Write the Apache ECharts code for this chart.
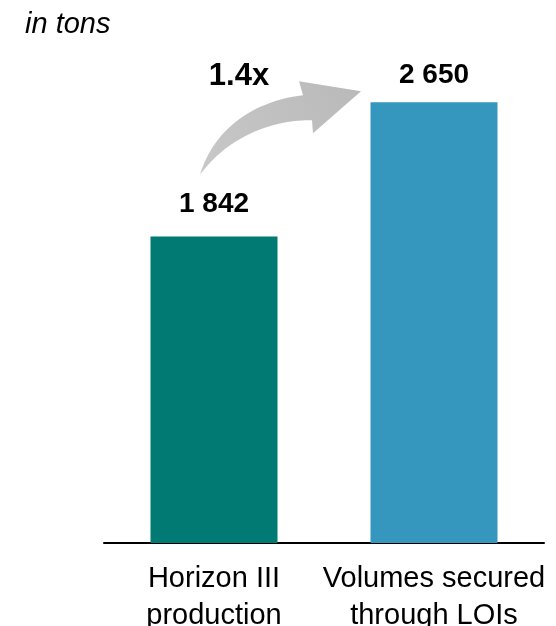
<!DOCTYPE html>
<html>
<head>
<meta charset="utf-8">
<script src="https://cdn.jsdelivr.net/npm/echarts@6/dist/echarts.min.js"></script>
<style>html,body{margin:0;padding:0;background:#fff}#c{width:556px;height:626px}</style>
</head>
<body>
<div id="c"></div>
<script>
const categories = ['Horizon III\nproduction', 'Volumes secured\nthrough LOIs'];
const values = [1842, 2650];
const barColors = ['#007A72', '#3596BE'];
const labelGaps = [18, 13];
const unitLabel = 'in tons';
const ratioLabel = '1.4x';

const FONT = 'Liberation Sans, Arial, sans-serif';
const fmt = v => String(v).replace(/\B(?=(\d{3})+(?!\d))/g, ' ');
const chart = echarts.init(document.getElementById('c'));
chart.setOption({
  animation: false,
  title: { text: unitLabel, left: 20, top: 5, textStyle: { fontFamily: FONT, fontStyle: 'italic', fontWeight: 'normal', fontSize: 29, color: '#000' } },
  grid: { left: 104, right: 12, top: 44, bottom: 83, containLabel: false, outerBoundsMode: 'none' },
  xAxis: {
    type: 'category', data: categories,
    axisLine: { lineStyle: { color: '#000', width: 2 } },
    axisTick: { show: false },
    axisLabel: { fontFamily: FONT, fontSize: 29, color: '#000', lineHeight: 37, margin: 17, interval: 0 }
  },
  yAxis: { type: 'value', min: 0, max: 3000, show: false, splitLine: { show: false } },
  series: [{
    type: 'bar', barWidth: 127,
    data: values.map((v, i) => ({ value: v, itemStyle: { color: barColors[i] }, label: { distance: labelGaps[i] } })),
    label: { show: true, position: 'top', formatter: p => fmt(p.value), fontFamily: FONT, fontWeight: 'bold', fontSize: 28, color: '#000' }
  }]
});

// arrow annotation anchored to bars
const p1 = chart.convertToPixel({ seriesIndex: 0 }, [0, values[0]]);
const p2 = chart.convertToPixel({ seriesIndex: 0 }, [1, values[1]]);
const sx = p1[0] - 14, sy = p1[1] - 62;
const tx = p2[0] - 73, ty = p2[1] - 11;
function bez(a, b, c, d, n) {
  const pts = [];
  for (let i = 0; i <= n; i++) {
    const t = i / n, u = 1 - t;
    pts.push([
      u*u*u*a[0] + 3*u*u*t*b[0] + 3*u*t*t*c[0] + t*t*t*d[0],
      u*u*u*a[1] + 3*u*u*t*b[1] + 3*u*t*t*c[1] + t*t*t*d[1]
    ]);
  }
  return pts;
}
const upper = bez([sx, sy], [sx + 13, sy - 43], [sx + 50, sy - 73], [tx - 58, ty + 4], 30);
const lower = bez([tx - 49, ty + 29], [sx + 80, sy - 55], [sx + 32, sy - 43], [sx, sy], 30);
const pts = upper.concat([[tx - 62, ty - 10], [tx, ty], [tx - 48, ty + 42]], lower);
chart.setOption({
  graphic: [
    { type: 'polygon', shape: { points: pts }, style: { fill: { type: 'linear', x: 0, y: 1, x2: 1, y2: 0, colorStops: [{ offset: 0, color: '#c8c8c8' }, { offset: 1, color: '#b9b9b9' }] } } },
    { type: 'text', x: 239, y: ty - 15, style: { text: ratioLabel, fontFamily: FONT, fontWeight: 'bold', fontSize: 31, fill: '#000', align: 'center', verticalAlign: 'middle' } }
  ]
});
</script>
</body>
</html>
